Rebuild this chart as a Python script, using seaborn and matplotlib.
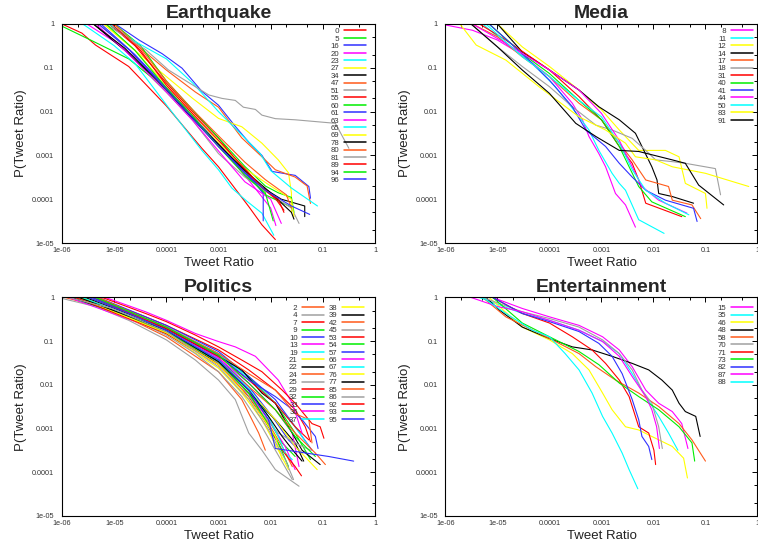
import matplotlib
matplotlib.use("Agg")
import matplotlib.pyplot as plt
import matplotlib.ticker as mticker
from matplotlib.lines import Line2D
import pandas as pd
import seaborn as sns

# axis ticks, written the way gnuplot prints them
x_ticks = [1e-6, 1e-5, 1e-4, 1e-3, 1e-2, 1e-1, 1]
x_tick_labels = ["1e-06", "1e-05", "0.0001", "0.001", "0.01", "0.1", "1"]
y_ticks = [1e-5, 1e-4, 1e-3, 1e-2, 1e-1, 1]
y_tick_labels = ["1e-05", "0.0001", "0.001", "0.01", "0.1", "1"]

# gnuplot default line colour cycle (continues from one panel to the next)
gp_colors = ["#ff0000", "#00ee00", "#3030ff", "#ff00ff", "#00ffff",
             "#ffff00", "#000000", "#ff5a1a", "#a0a0a0"]

# ---------------- Earthquake ----------------
eq_ids = [0, 5, 16, 20, 23, 27, 34, 47, 51, 55, 60, 61, 63, 65, 69, 78, 80, 81, 89, 94, 96]
eq_x = [
    [1e-6, 2.4e-6, 4.4e-6, 1.9e-5, 1e-4, 4.8e-4, 1e-3, 3.8e-3, 6.8e-3, 1.23e-2],
    [1e-6, 4e-6, 1.9e-5, 5e-5, 1e-4, 3.2e-4, 1e-3, 3.2e-3, 7.9e-3, 2.7e-2],
    [1.05e-5, 3e-5, 8.3e-5, 2e-4, 4.8e-4, 1e-3, 2.1e-3, 3.8e-3, 6.8e-3, 1.07e-2, 2.95e-2, 5.4e-2, 5.8e-2],
    [3e-6, 1e-5, 3.2e-5, 1e-4, 3.2e-4, 1e-3, 2.5e-3, 5e-3, 1e-2, 1.26e-2],
    [2.5e-6, 1e-5, 2.5e-5, 1.07e-4, 4.8e-4, 1e-3, 1.8e-3, 3.5e-3, 6.8e-3, 1.15e-2],
    [6.3e-6, 2.5e-5, 1e-4, 3.2e-4, 1e-3, 2.8e-3, 6.8e-3, 1.4e-2, 2.2e-2, 2.5e-2, 2.5e-2],
    [4e-6, 1.6e-5, 1e-4, 3.2e-4, 1e-3, 3.2e-3, 6.3e-3, 1.6e-2, 4.5e-2, 4.5e-2],
    [8e-6, 3.2e-5, 1e-4, 3.6e-4, 1e-3, 2.8e-3, 6.8e-3, 1.23e-2, 2.95e-2, 5e-2, 5.8e-2],
    [5e-6, 2e-5, 1e-4, 3.2e-4, 1e-3, 3.2e-3, 1e-2, 2.5e-2, 3.5e-2],
    [8e-6, 2.5e-5, 1e-4, 3.2e-4, 1e-3, 2.5e-3, 6.3e-3, 1.26e-2, 1.8e-2],
    [1e-5, 3.2e-5, 1e-4, 3.2e-4, 1e-3, 3.2e-3, 7.9e-3, 1.4e-2, 2.5e-2, 2.8e-2],
    [5.6e-6, 2.5e-5, 1e-4, 3.2e-4, 1e-3, 3.2e-3, 5.6e-3, 7.2e-3, 7.2e-3],
    [4.5e-6, 1.6e-5, 1e-4, 3.2e-4, 1e-3, 3.2e-3, 1e-2, 1.6e-2],
    [8e-6, 2.5e-5, 1e-4, 3.2e-4, 1e-3, 3.2e-3, 6.3e-3, 1e-2, 2.5e-2, 7.9e-2],
    [6.3e-6, 2.5e-5, 1e-4, 3.2e-4, 1e-3, 3.2e-3, 1e-2, 2.5e-2, 2.8e-2],
    [4e-6, 1.6e-5, 1e-4, 3.2e-4, 1e-3, 3.2e-3, 1e-2, 2.5e-2, 2.8e-2],
    [1e-5, 3.2e-5, 1e-4, 3.2e-4, 1e-3, 3.2e-3, 7.9e-3, 2e-2, 2.5e-2],
    [6.8e-6, 4e-5, 1.1e-4, 3.6e-4, 6.5e-4, 1.17e-3, 2.1e-3, 3e-3, 5.1e-3, 6.8e-3, 1.23e-2, 2.95e-2, 0.174, 0.316],
    [9e-6, 3.2e-5, 1e-4, 3.2e-4, 1e-3, 3.2e-3, 7e-3, 1.4e-2, 1.8e-2],
    [7e-6, 2.5e-5, 1e-4, 3.2e-4, 1e-3, 3.2e-3, 7.9e-3, 1.12e-2],
    [5e-6, 2e-5, 1e-4, 3.2e-4, 1e-3, 3.2e-3, 7.9e-3, 2.5e-2, 5.6e-2],
]
eq_y = [
    [1, 0.62, 0.33, 0.107, 0.0135, 1.45e-3, 5.5e-4, 6.8e-5, 2.6e-5, 1.2e-5],
    [0.89, 0.4, 0.16, 0.063, 0.028, 7e-3, 1.8e-3, 4e-4, 1.26e-4, 6.3e-5],
    [1, 0.43, 0.21, 0.098, 0.029, 0.014, 4.6e-3, 2e-3, 1e-3, 4.3e-4, 3.5e-4, 1.95e-4, 1.05e-4],
    [1, 0.4, 0.14, 0.035, 7.9e-3, 1.8e-3, 5e-4, 1.8e-4, 6.3e-5, 2.5e-5],
    [1, 0.32, 0.126, 0.0129, 1.3e-3, 4.7e-4, 1.8e-4, 9e-5, 4.8e-5, 1.5e-5],
    [1, 0.25, 0.063, 0.02, 7e-3, 4.5e-3, 1.9e-3, 7.9e-4, 4e-4, 1.4e-4, 5e-5],
    [1, 0.25, 0.032, 7e-3, 1.6e-3, 4e-4, 2e-4, 1e-4, 7e-5, 4e-5],
    [1, 0.28, 0.089, 0.028, 0.0126, 2.5e-3, 9.3e-4, 4.7e-4, 3.2e-4, 2e-4, 8e-5],
    [1, 0.25, 0.028, 6.3e-3, 1.1e-3, 3.2e-4, 1.26e-4, 6.3e-5, 2.8e-5],
    [1, 0.32, 0.045, 0.01, 2.5e-3, 6.3e-4, 2e-4, 1e-4, 5.6e-5],
    [1, 0.32, 0.05, 0.011, 2.5e-3, 5.6e-4, 2e-4, 1.4e-4, 1.1e-4, 5e-5],
    [1, 0.2, 0.035, 7.9e-3, 1.8e-3, 4e-4, 2e-4, 1.35e-4, 3.2e-5],
    [1, 0.25, 0.028, 6.3e-3, 1.26e-3, 2.5e-4, 1e-4, 2.8e-5],
    [1, 0.4, 0.16, 0.045, 0.01, 2.5e-3, 1.1e-3, 4.5e-4, 1.8e-4, 7e-5],
    [1, 0.25, 0.04, 8.9e-3, 2e-3, 5e-4, 2e-4, 1e-4, 4e-5],
    [1, 0.28, 0.032, 7e-3, 1.8e-3, 4.5e-4, 1.4e-4, 5e-5, 3.5e-5],
    [1, 0.28, 0.05, 0.011, 2.8e-3, 7e-4, 2.8e-4, 1.26e-4, 6.3e-5],
    [1, 0.26, 0.089, 0.037, 0.024, 0.02, 0.018, 0.0126, 0.0112, 8.3e-3, 6.9e-3, 6.5e-3, 5.4e-3, 1.45e-3],
    [1, 0.25, 0.04, 8.9e-3, 2.2e-3, 5e-4, 1.8e-4, 1e-4, 5e-5],
    [1, 0.25, 0.035, 7.9e-3, 1.6e-3, 3.5e-4, 1.4e-4, 3.2e-5],
    [1, 0.25, 0.032, 7e-3, 1.6e-3, 4e-4, 1.6e-4, 7e-5, 4.5e-5],
]

# ---------------- Media ----------------
md_ids = [8, 11, 12, 14, 17, 18, 31, 40, 41, 44, 50, 83, 91]
md_x = [
    [1e-6, 3.3e-6, 1e-5, 3e-5, 1e-4, 2.75e-4, 4.3e-4, 5.75e-4, 8.9e-4, 1.2e-3, 1.86e-3, 2.9e-3, 4.5e-3],
    [5.2e-6, 1.45e-5, 4.7e-5, 1.3e-4, 3.7e-4, 5.75e-4, 8.9e-4, 1.6e-3, 2.2e-3, 2.9e-3, 5.2e-3, 1.6e-2],
    [1e-5, 3e-5, 1e-4, 3.7e-4, 1e-3, 2.2e-3, 5.2e-3, 1.7e-2, 3.1e-2, 4.1e-2, 0.1, 0.107],
    [1e-5, 3e-5, 1e-4, 3.7e-4, 8.9e-4, 2.2e-3, 4.5e-3, 6e-3, 9.3e-3, 1.17e-2, 1.26e-2, 2.3e-2, 5.9e-2],
    [3.3e-6, 1e-5, 3e-5, 1e-4, 3.7e-4, 1e-3, 2.2e-3, 3.9e-3, 7.1e-3, 1.95e-2, 2.3e-2, 5.5e-2, 8.1e-2],
    [3.1e-6, 1e-5, 3e-5, 1e-4, 2.75e-4, 7.8e-4, 1.6e-3, 3.9e-3, 7.1e-3, 1.1e-2, 2.3e-2, 4.1e-2, 0.155, 0.195],
    [4.5e-6, 1.45e-5, 1e-4, 3.7e-4, 1e-3, 2.2e-3, 3.9e-3, 5.2e-3, 7.1e-3, 3.5e-2],
    [6.9e-6, 3e-5, 1e-4, 3.7e-4, 1e-3, 2.2e-3, 3.4e-3, 5.2e-3, 9.3e-3, 4.1e-2],
    [6.9e-6, 3e-5, 1e-4, 2.75e-4, 5e-4, 1.2e-3, 2.2e-3, 3.9e-3, 7.1e-3, 1.7e-2, 5.9e-2, 6.9e-2],
    [3.3e-6, 1.45e-5, 1e-4, 3.7e-4, 1e-3, 2.2e-3, 3.9e-3, 6e-3, 1.26e-2, 4.4e-2],
    [6e-6, 3e-5, 1e-4, 3.7e-4, 1e-3, 2.2e-3, 3.9e-3, 7.1e-3, 1.7e-2, 4.8e-2],
    [1.9e-6, 3.9e-6, 1.45e-5, 6.3e-5, 3.7e-4, 1.2e-3, 2.9e-3, 4.5e-3, 1.1e-2, 2.3e-2, 0.1, 0.68],
    [3.1e-6, 1e-5, 3e-5, 1e-4, 3.2e-4, 7.8e-4, 2.2e-3, 5.2e-3, 2.3e-2, 4.1e-2, 7.4e-2, 0.224],
]
md_y = [
    [0.95, 0.72, 0.43, 0.195, 0.063, 0.0155, 6.5e-3, 2.7e-3, 1.1e-3, 5.5e-4, 1.35e-4, 7.4e-5, 2.3e-5],
    [1, 0.36, 0.126, 0.037, 7.6e-3, 3.8e-3, 1.3e-3, 3.9e-4, 2.3e-4, 1.6e-4, 3.4e-5, 1.66e-5],
    [1, 0.3, 0.107, 0.031, 0.011, 3.8e-3, 1.3e-3, 1.3e-3, 9.3e-4, 2.3e-4, 1.35e-4, 6.2e-5],
    [1, 0.23, 0.089, 0.031, 0.0129, 6.5e-3, 3.2e-3, 1.6e-3, 5.5e-4, 2.75e-4, 1.35e-4, 1.15e-4, 8.1e-5],
    [1, 0.51, 0.178, 0.063, 0.0155, 6.5e-3, 1.9e-3, 7.9e-4, 2.75e-4, 1.95e-4, 9.5e-5, 7.4e-5, 3.6e-5],
    [1, 0.3, 0.107, 0.037, 0.0129, 4.9e-3, 3.8e-3, 2.45e-3, 1.3e-3, 7.9e-4, 7.2e-4, 6.6e-4, 5e-4, 1.26e-4],
    [1, 0.43, 0.089, 0.022, 6.5e-3, 1.6e-3, 6.6e-4, 2.75e-4, 8.1e-5, 4e-5],
    [1, 0.21, 0.074, 0.018, 6.5e-3, 1.6e-3, 5.5e-4, 1.95e-4, 8.7e-5, 4e-5],
    [1, 0.21, 0.052, 0.0129, 3.8e-3, 1.6e-3, 6.6e-4, 3.2e-4, 1.6e-4, 9.5e-5, 6.2e-5, 3.1e-5],
    [1, 0.36, 0.089, 0.031, 9.1e-3, 2.2e-3, 5.5e-4, 1.95e-4, 9.5e-5, 4.8e-5],
    [1, 0.178, 0.063, 0.018, 7.6e-3, 1.9e-3, 4.7e-4, 1.6e-4, 8.1e-5, 4.4e-5],
    [1, 0.33, 0.15, 0.037, 7.6e-3, 3.8e-3, 1.9e-3, 9.3e-4, 7.9e-4, 5.5e-4, 3.9e-4, 1.95e-4],
    [1, 0.3, 0.089, 0.026, 5.4e-3, 2.7e-3, 1.3e-3, 1.23e-3, 7.9e-4, 6.6e-4, 2.1e-4, 7.4e-5],
]

# ---------------- Politics ----------------
po_ids = [2, 4, 7, 9, 10, 13, 19, 21, 22, 24, 25, 29, 32, 33, 36, 37,
          38, 39, 42, 45, 53, 54, 57, 66, 67, 76, 77, 85, 86, 92, 93, 95]
po_x = [
    [1.15e-6, 9.1e-6, 1e-4, 1e-3, 2.8e-3, 5.9e-3, 7.9e-3],
    [1e-6, 4.4e-6, 1.9e-5, 1e-4, 3.6e-4, 1e-3, 2.1e-3, 3.8e-3, 6.8e-3, 1.23e-2, 3.5e-2],
    [4.4e-6, 4e-5, 1e-4, 1e-3, 3.8e-3, 1.23e-2, 2.95e-2, 4.6e-2, 5.8e-2],
    [1.8e-6, 1e-4, 1e-3, 3.8e-3, 9.1e-3, 1.66e-2, 2.95e-2],
    [2.1e-6, 1e-4, 1e-3, 3.8e-3, 1.07e-2, 2.2e-2, 4e-2],
    [1.35e-6, 1e-4, 1e-3, 3.8e-3, 9.1e-3, 1.9e-2, 2.95e-2],
    [1.55e-6, 1e-4, 1e-3, 3.8e-3, 9.1e-3, 1.66e-2, 2.6e-2],
    [1.8e-6, 1e-4, 1e-3, 2.8e-3, 6.8e-3, 1.4e-2, 2.2e-2],
    [1.55e-6, 1.9e-5, 1e-4, 1e-3, 3.8e-3, 1.23e-2, 2.95e-2, 4.3e-2],
    [2.4e-6, 1e-4, 1e-3, 3.8e-3, 9.1e-3, 1.66e-2, 2.6e-2],
    [1.8e-6, 9.1e-6, 4e-5, 1e-4, 3.6e-4, 1e-3, 2.8e-3, 6.8e-3, 1.23e-2, 2.6e-2],
    [1.8e-6, 1e-4, 1e-3, 3.8e-3, 9.1e-3, 1.66e-2, 2.95e-2, 3.9e-2],
    [3.2e-6, 1e-4, 1e-3, 3.8e-3, 1.23e-2, 2.95e-2, 5.8e-2],
    [5e-6, 1e-4, 1e-3, 3.8e-3, 1.23e-2, 2.95e-2, 6.2e-2],
    [2.8e-6, 1e-4, 1e-3, 3.8e-3, 1.23e-2, 2.6e-2, 3.5e-2],
    [3.8e-6, 1e-4, 1e-3, 3.8e-3, 1.23e-2, 2.95e-2, 5.4e-2],
    [2.8e-6, 1e-4, 1e-3, 3.8e-3, 1.23e-2, 2.95e-2, 7.8e-2],
    [2.8e-6, 1e-4, 1e-3, 2.8e-3, 6.8e-3, 1.23e-2, 2.2e-2, 4e-2, 8.9e-2],
    [4.4e-6, 1e-4, 1e-3, 3.8e-3, 1.23e-2, 2.95e-2, 7.2e-2, 0.112],
    [2.4e-6, 9.1e-6, 4e-5, 1e-4, 3.6e-4, 1e-3, 2.8e-3, 6.8e-3, 1.4e-2, 2.95e-2, 5.8e-2],
    [3.8e-6, 1e-4, 1e-3, 3.8e-3, 1.23e-2, 2.95e-2, 5.4e-2],
    [2.4e-6, 1e-4, 1e-3, 3.8e-3, 7.9e-3, 1.4e-2, 2.2e-2],
    [3.8e-6, 1.9e-5, 1e-4, 1e-3, 3.8e-3, 1.23e-2, 2.2e-2, 4e-2, 7.2e-2, 8.1e-2],
    [6.8e-6, 4e-5, 1e-4, 3.6e-4, 1e-3, 2.1e-3, 5.1e-3, 9.1e-3, 1.4e-2, 2.6e-2, 3.5e-2, 4e-2],
    [2.4e-6, 1e-4, 1e-3, 3.8e-3, 9.1e-3, 1.4e-2, 1.9e-2],
    [2.1e-6, 1e-4, 1e-3, 2.8e-3, 6.8e-3, 1.23e-2, 1.66e-2],
    [2.1e-6, 1e-4, 1e-3, 3.8e-3, 9.1e-3, 1.66e-2, 2.95e-2, 4e-2],
    [5e-6, 4e-5, 1e-4, 1e-3, 3.8e-3, 1.23e-2, 2.95e-2, 5.4e-2, 6.2e-2],
    [1.35e-6, 9.1e-6, 1e-4, 1e-3, 3.8e-3, 9.1e-3, 1.9e-2, 2.75e-2],
    [5.9e-6, 4e-5, 1e-4, 3.6e-4, 1e-3, 2.8e-3, 6.8e-3, 1.66e-2, 2.95e-2, 6.2e-2, 8.9e-2, 0.105],
    [4.4e-6, 1e-4, 1e-3, 3.8e-3, 1.23e-2, 2.95e-2, 7.2e-2],
    [3.2e-6, 1.9e-5, 1e-4, 1e-3, 3.8e-3, 9.1e-3, 1.23e-2, 2.95e-2, 0.129, 0.39],
]
po_y = [
    [1, 0.51, 0.126, 0.02, 4.6e-3, 7.9e-4, 3.2e-4],
    [0.95, 0.62, 0.3, 0.107, 0.037, 0.0129, 4.6e-3, 7.9e-4, 3.2e-4, 1.15e-4, 4.8e-5],
    [1, 0.36, 0.23, 0.063, 0.022, 7.6e-3, 2.7e-3, 1.1e-3, 5e-4],
    [1, 0.178, 0.037, 7.6e-3, 1.6e-3, 4.7e-4, 2.3e-4],
    [1, 0.186, 0.041, 9.1e-3, 1.9e-3, 5.5e-4, 2.75e-4],
    [1, 0.155, 0.031, 6.5e-3, 1.6e-3, 3.9e-4, 1.15e-4],
    [1, 0.166, 0.031, 6.5e-3, 1.1e-3, 3.2e-4, 1.95e-4],
    [1, 0.15, 0.024, 6.5e-3, 1.6e-3, 3.2e-4, 1.15e-4],
    [1, 0.36, 0.15, 0.031, 6.5e-3, 1.6e-3, 4.7e-4, 1.8e-4],
    [1, 0.166, 0.029, 6.5e-3, 1.3e-3, 3.9e-4, 1.35e-4],
    [1, 0.51, 0.23, 0.138, 0.052, 0.02, 5.4e-3, 1.1e-3, 3.2e-4, 6.8e-5],
    [1, 0.15, 0.029, 5.4e-3, 1.1e-3, 3.2e-4, 1.35e-4, 8.3e-5],
    [1, 0.21, 0.052, 0.0155, 3.8e-3, 7.9e-4, 1.95e-4],
    [1, 0.23, 0.058, 0.0155, 4.6e-3, 1.1e-3, 3.2e-4],
    [1, 0.195, 0.041, 0.011, 2.7e-3, 7.9e-4, 1.35e-4],
    [1, 0.21, 0.052, 0.014, 3.8e-3, 1.1e-3, 3.9e-4],
    [1, 0.178, 0.034, 7.6e-3, 1.6e-3, 3.9e-4, 1.15e-4],
    [1, 0.195, 0.045, 0.022, 6.5e-3, 3.8e-3, 1.1e-3, 3.2e-4, 1.5e-4],
    [1, 0.178, 0.037, 9.1e-3, 2.7e-3, 7.9e-4, 2.75e-4, 1.5e-4],
    [1, 0.56, 0.28, 0.178, 0.074, 0.031, 9.1e-3, 2.2e-3, 7.9e-4, 4.7e-4, 3.2e-4],
    [1, 0.195, 0.045, 0.0129, 3.8e-3, 1.1e-3, 5.5e-4],
    [1, 0.166, 0.034, 6.5e-3, 1.6e-3, 4.7e-4, 1.35e-4],
    [1, 0.47, 0.21, 0.048, 0.0129, 5.4e-3, 3.2e-3, 1.6e-3, 6.6e-4, 3.5e-4],
    [1, 0.47, 0.3, 0.15, 0.098, 0.074, 0.045, 0.022, 0.0129, 3.8e-3, 1.3e-3, 7.9e-4],
    [1, 0.178, 0.037, 8.3e-3, 1.9e-3, 6.6e-4, 2.75e-4],
    [1, 0.155, 0.029, 7.6e-3, 1.9e-3, 6.6e-4, 1.95e-4],
    [1, 0.178, 0.034, 7.6e-3, 1.9e-3, 6.6e-4, 2.75e-4, 1.8e-4],
    [1, 0.33, 0.21, 0.052, 0.018, 7.6e-3, 2.2e-3, 1.6e-3, 4.7e-4],
    [1, 0.56, 0.166, 0.026, 4.6e-3, 9.3e-4, 1.95e-4, 6.8e-5],
    [1, 0.43, 0.28, 0.138, 0.074, 0.037, 0.02, 7.6e-3, 3.8e-3, 1.3e-3, 1.1e-3, 6e-4],
    [1, 0.21, 0.048, 0.011, 2.7e-3, 6.6e-4, 2.3e-4],
    [1, 0.43, 0.178, 0.037, 7.6e-3, 1.6e-3, 3.5e-4, 3e-4, 2.3e-4, 1.8e-4],
]

# ---------------- Entertainment ----------------
en_ids = [15, 35, 46, 48, 58, 70, 71, 73, 82, 87, 88]
en_x = [
    [8.1e-6, 3e-5, 1e-4, 3.7e-4, 1.05e-3, 2.2e-3, 3.9e-3, 7.1e-3, 1.26e-2, 2.3e-2, 3.5e-2, 4.6e-2],
    [4.5e-6, 3e-5, 1e-4, 3.7e-4, 1.05e-3, 2.2e-3, 3.9e-3, 7.1e-3, 1.26e-2, 1.95e-2, 2.95e-2],
    [6.9e-6, 3e-5, 1e-4, 2.75e-4, 5.75e-4, 1.05e-3, 1.6e-3, 2.9e-3, 5.2e-3, 9.3e-3, 2.3e-2, 3.8e-2, 4.5e-2],
    [6e-6, 1.1e-5, 3e-5, 1e-4, 2.75e-4, 6.6e-4, 1.6e-3, 3.9e-3, 8.1e-3, 1.45e-2, 2.3e-2, 3.1e-2, 4.1e-2, 6.5e-2, 7.9e-2],
    [5.2e-6, 1.45e-5, 1e-4, 3.7e-4, 7.8e-4, 1.86e-3, 5.2e-3, 1.26e-2, 3.1e-2, 5.5e-2, 0.1],
    [5.2e-6, 3e-5, 1e-4, 3.7e-4, 1.05e-3, 2.2e-3, 3.9e-3, 6e-3, 9.3e-3, 1.26e-2, 1.48e-2],
    [8.1e-6, 3e-5, 1e-4, 2.75e-4, 6.6e-4, 1.2e-3, 2.2e-3, 3.4e-3, 5.2e-3, 8.1e-3, 1.02e-2, 1.1e-2],
    [8.1e-6, 3e-5, 1e-4, 3.7e-4, 8.9e-4, 2.2e-3, 5.2e-3, 1.26e-2, 3.1e-2, 5.5e-2, 6.2e-2],
    [8.1e-6, 3e-5, 1e-4, 3.7e-4, 8.9e-4, 1.6e-3, 2.5e-3, 3.9e-3, 5.2e-3, 6e-3, 8.1e-3, 9.3e-3],
    [3.1e-6, 1e-5, 3e-5, 1e-4, 3.7e-4, 1.05e-3, 2.2e-3, 3.9e-3, 7.1e-3, 9.3e-3, 1.15e-2, 1.3e-2],
    [5.2e-6, 1.45e-5, 4.7e-5, 1e-4, 2e-4, 3.7e-4, 6.6e-4, 1.05e-3, 1.6e-3, 2.5e-3, 3.4e-3, 5e-3],
]
en_y = [
    [1, 0.56, 0.36, 0.23, 0.126, 0.063, 0.026, 7.6e-3, 3.8e-3, 2.45e-3, 1.3e-3, 3.5e-4],
    [1, 0.43, 0.3, 0.178, 0.098, 0.052, 0.018, 5.4e-3, 1.9e-3, 7.9e-4, 3.2e-4],
    [1, 0.21, 0.107, 0.052, 0.022, 6.5e-3, 2.7e-3, 1.1e-3, 9.3e-4, 6.6e-4, 3.9e-4, 2.1e-4, 7.4e-5],
    [1, 0.51, 0.21, 0.115, 0.074, 0.063, 0.045, 0.031, 0.022, 0.0129, 7.6e-3, 3.8e-3, 2.45e-3, 1.9e-3, 6.6e-4],
    [1, 0.36, 0.115, 0.052, 0.026, 0.0129, 6.5e-3, 3.2e-3, 1.3e-3, 5.5e-4, 1.8e-4],
    [1, 0.47, 0.33, 0.21, 0.107, 0.052, 0.022, 7.6e-3, 3.8e-3, 1.1e-3, 3.5e-4],
    [1, 0.43, 0.26, 0.126, 0.063, 0.031, 0.0129, 5.4e-3, 1.1e-3, 7.9e-4, 3.2e-4, 1.5e-4],
    [1, 0.26, 0.126, 0.058, 0.029, 0.011, 5.4e-3, 2.7e-3, 1.1e-3, 4.7e-4, 1.8e-4],
    [1, 0.43, 0.28, 0.166, 0.089, 0.045, 0.018, 4.6e-3, 1.6e-3, 6.6e-4, 3.9e-4, 1.95e-4],
    [1, 0.62, 0.47, 0.3, 0.178, 0.098, 0.045, 0.0155, 5.4e-3, 2.7e-3, 1.1e-3, 3.5e-4],
    [1, 0.43, 0.178, 0.126, 0.052, 0.022, 6.5e-3, 1.9e-3, 7.9e-4, 2.75e-4, 1.15e-4, 4.2e-5],
]

# title, data, number of key columns, key anchor (axes fraction)
panels = [
    ("Earthquake", eq_ids, eq_x, eq_y, 1, (0.976, 0.99)),
    ("Media", md_ids, md_x, md_y, 1, (0.99, 0.99)),
    ("Politics", po_ids, po_x, po_y, 2, (0.97, 0.975)),
    ("Entertainment", en_ids, en_x, en_y, 1, (0.99, 0.975)),
]

sns.set_theme(style="white")
plt.rcParams["font.family"] = ["Liberation Sans", "DejaVu Sans"]

fig = plt.figure(figsize=(7.58, 5.44), dpi=100)
axes_pos = [
    [0.0818, 0.5533, 0.4129, 0.4026],
    [0.5877, 0.5533, 0.4116, 0.4026],
    [0.0818, 0.0515, 0.4129, 0.4017],
    [0.5877, 0.0515, 0.4116, 0.4017],
]

color_idx = 0
for pos, (title, ids, xs, ys, ncol, anchor) in zip(axes_pos, panels):
    ax = fig.add_axes(pos)
    names = [str(i) for i in ids]
    palette = {}
    frames = []
    for name, sx, sy in zip(names, xs, ys):
        palette[name] = gp_colors[color_idx % len(gp_colors)]
        color_idx += 1
        frames.append(pd.DataFrame({"ratio": sx, "prob": sy, "series": name}))
    df = pd.concat(frames, ignore_index=True)

    sns.lineplot(data=df, x="ratio", y="prob", hue="series", hue_order=names,
                 palette=palette, estimator=None, sort=False, legend=False,
                 linewidth=0.8, ax=ax)

    ax.set_xscale("log")
    ax.set_yscale("log")
    ax.set_xlim(1e-6, 1)
    ax.set_ylim(1e-5, 1)
    ax.xaxis.set_major_locator(mticker.FixedLocator(x_ticks))
    ax.xaxis.set_major_formatter(mticker.FixedFormatter(x_tick_labels))
    ax.yaxis.set_major_locator(mticker.FixedLocator(y_ticks))
    ax.yaxis.set_major_formatter(mticker.FixedFormatter(y_tick_labels))
    ax.xaxis.set_minor_locator(mticker.LogLocator(base=10, subs=(2, 5)))
    ax.yaxis.set_minor_locator(mticker.LogLocator(base=10, subs=(2, 5)))
    ax.xaxis.set_minor_formatter(mticker.NullFormatter())
    ax.yaxis.set_minor_formatter(mticker.NullFormatter())
    ax.tick_params(which="both", direction="in", top=True, right=True,
                   color="black", width=0.7)
    ax.tick_params(which="major", length=3.5, labelsize=5.2, labelcolor="#333333")
    ax.tick_params(axis="x", which="major", pad=3)
    ax.tick_params(axis="y", which="major", pad=5.5)
    ax.tick_params(which="minor", length=2)
    for sp in ax.spines.values():
        sp.set_color("black")
        sp.set_linewidth(0.8)

    ax.set_title(title, fontsize=14, fontweight="bold", pad=4)
    ax.set_xlabel("Tweet Ratio", fontsize=9.5, labelpad=2, color="#222222")
    ax.set_ylabel("P(Tweet Ratio)", fontsize=9.5, labelpad=3.5, color="#222222")

    # gnuplot-style key: right aligned numbers followed by the line sample
    handles = [Line2D([], [], color=palette[n], linewidth=1.1) for n in names]
    labels = [n.rjust(2, "\u2007") for n in names]
    leg = ax.legend(handles, labels, loc="upper right", bbox_to_anchor=anchor,
                    ncol=ncol, frameon=False, fontsize=5.6, markerfirst=False,
                    handlelength=2.8, handletextpad=0.6, labelspacing=0.0,
                    columnspacing=0.6, borderaxespad=0.0, borderpad=0.2)
    for t in leg.get_texts():
        t.set_color("#333333")

fig.savefig("out.png", dpi=100)
